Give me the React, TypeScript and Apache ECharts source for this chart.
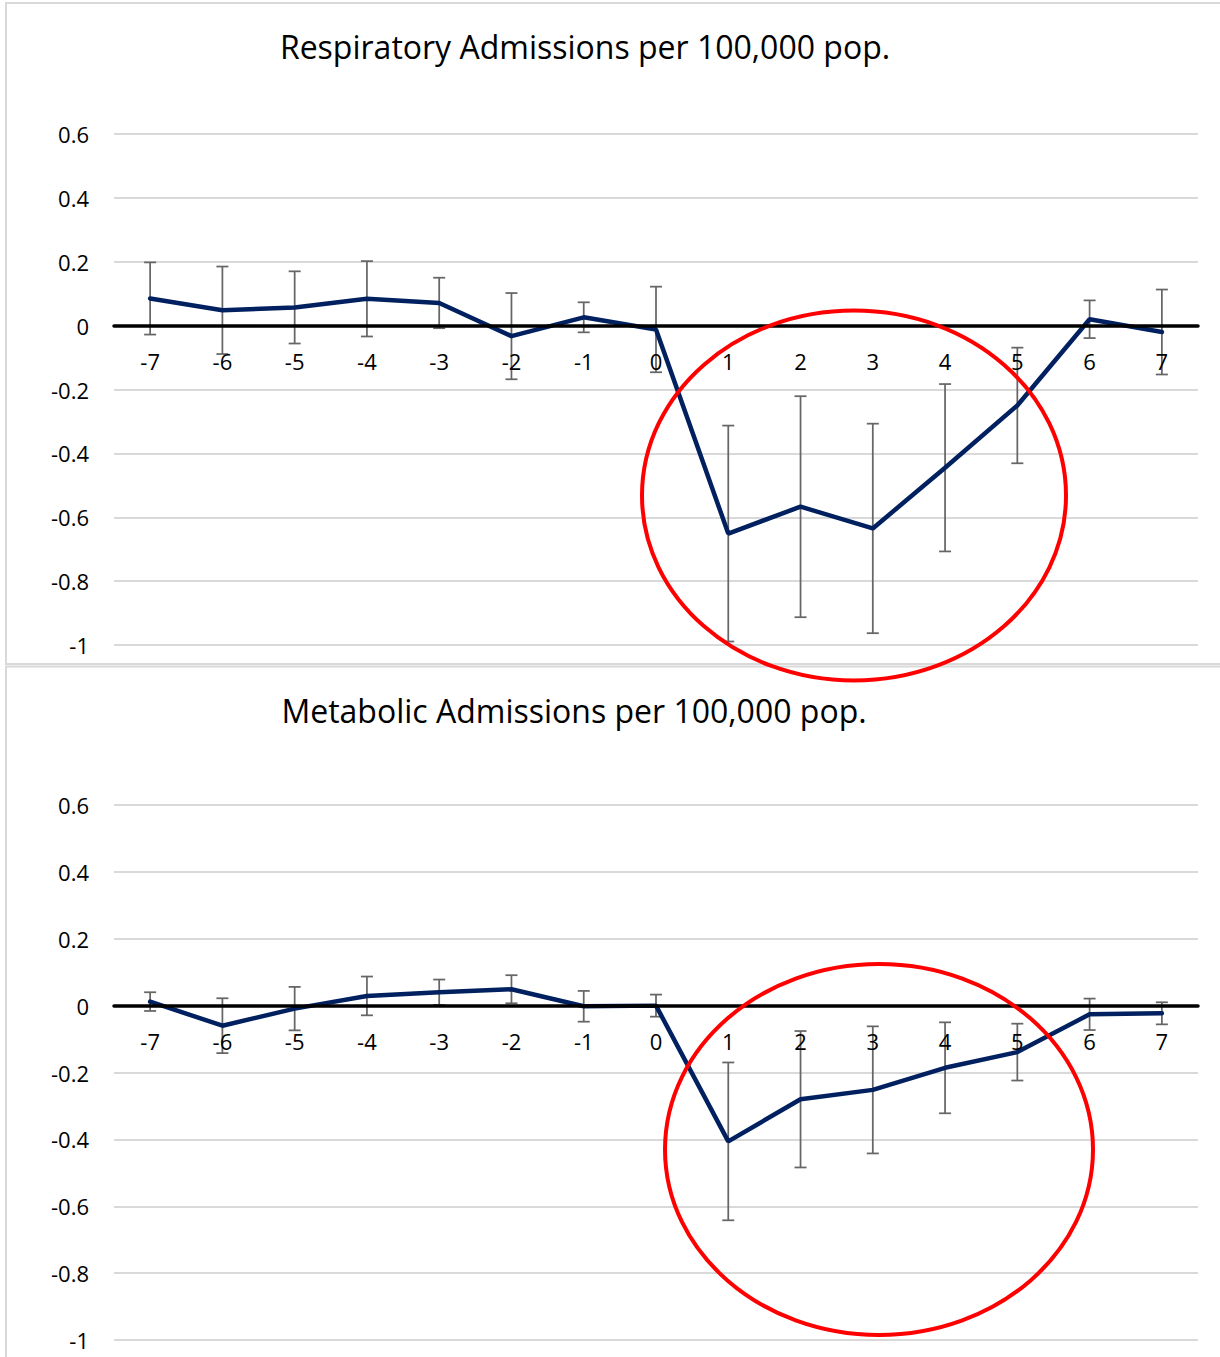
import React, { useEffect, useRef } from "react";
import * as echarts from "echarts";

const categories = ["-7", "-6", "-5", "-4", "-3", "-2", "-1", "0", "1", "2", "3", "4", "5", "6", "7"];

const respTitle = "Respiratory Admissions per 100,000 pop.";
const respValues = [0.085, 0.048, 0.057, 0.084, 0.071, -0.033, 0.026, -0.012, -0.651, -0.567, -0.635, -0.445, -0.25, 0.02, -0.02];
const respErr = [0.113, 0.137, 0.113, 0.118, 0.079, 0.135, 0.047, 0.134, 0.338, 0.346, 0.328, 0.262, 0.181, 0.059, 0.133];

const metaTitle = "Metabolic Admissions per 100,000 pop.";
const metaValues = [0.012, -0.06, -0.009, 0.029, 0.04, 0.049, -0.002, 0.0, -0.406, -0.28, -0.252, -0.186, -0.139, -0.026, -0.023];
const metaErr = [0.028, 0.082, 0.065, 0.058, 0.038, 0.042, 0.046, 0.033, 0.236, 0.204, 0.19, 0.136, 0.085, 0.047, 0.033];

const yMin = -1;
const yMax = 0.6;
const yStep = 0.2;

const FONT = "'Open Sans', Lato, sans-serif";

const H = 1357;
const grids = [
  { top: 134, bottomPx: 645 },
  { top: 805, bottomPx: 1340 },
];

function zeroOffset(g: { top: number; bottomPx: number }) {
  const h = g.bottomPx - g.top;
  return -((0 - yMin) / (yMax - yMin)) * h;
}

function errData(values: number[], errs: number[]) {
  return values.map((v, i) => [i, v - errs[i], v + errs[i]]);
}

function errRender(params: any, api: any) {
  const idx = api.value(0);
  const lo = api.value(1);
  const hi = api.value(2);
  const pHi = api.coord([idx, hi]);
  const pLo = api.coord([idx, lo]);
  const cap = 6;
  const style = { stroke: "#666666", lineWidth: 1.75 };
  return {
    type: "group",
    children: [
      { type: "line", shape: { x1: pHi[0], y1: pHi[1], x2: pLo[0], y2: pLo[1] }, style },
      { type: "line", shape: { x1: pHi[0] - cap, y1: pHi[1], x2: pHi[0] + cap, y2: pHi[1] }, style },
      { type: "line", shape: { x1: pLo[0] - cap, y1: pLo[1], x2: pLo[0] + cap, y2: pLo[1] }, style },
    ],
  };
}

function xAxisCfg(gridIndex: number) {
  return {
    type: "category",
    gridIndex,
    position: "bottom",
    offset: zeroOffset(grids[gridIndex]),
    data: categories,
    boundaryGap: true,
    axisLine: { show: true, onZero: false, lineStyle: { color: "#000000", width: 3.5 } },
    axisTick: { show: false },
    axisLabel: { fontSize: 22, color: "#000000", fontFamily: FONT, margin: 24 },
    splitLine: { show: false },
    z: 5,
  };
}

function yAxisCfg(gridIndex: number) {
  return {
    type: "value",
    gridIndex,
    min: yMin,
    max: yMax,
    interval: yStep,
    axisLine: { show: false },
    axisTick: { show: false },
    axisLabel: {
      fontSize: 22,
      color: "#000000",
      fontFamily: FONT,
      margin: 25,
      formatter: (v: number) => String(Math.round(v * 10) / 10),
    },
    splitLine: { show: true, lineStyle: { color: "#d9d9d9", width: 2 } },
  };
}

export default function App() {
  const ref = useRef<HTMLDivElement>(null);
  useEffect(() => {
    document.body.style.margin = "0";
    const chart = echarts.init(ref.current!, null, { renderer: "svg" });
    chart.setOption({
      animation: false,
      backgroundColor: "#ffffff",
      title: [
        {
          text: respTitle,
          left: 580,
          top: 25,
          textAlign: "center",
          textStyle: { fontSize: 32, fontWeight: "normal", color: "#000000", fontFamily: FONT },
        },
        {
          text: metaTitle,
          left: 569,
          top: 689,
          textAlign: "center",
          textStyle: { fontSize: 32, fontWeight: "normal", color: "#000000", fontFamily: FONT },
        },
      ],
      grid: grids.map((g) => ({ left: 114, right: 22, top: g.top, bottom: H - g.bottomPx })),
      xAxis: [xAxisCfg(0), xAxisCfg(1)],
      yAxis: [yAxisCfg(0), yAxisCfg(1)],
      series: [
        {
          type: "custom",
          xAxisIndex: 0,
          yAxisIndex: 0,
          renderItem: errRender,
          data: errData(respValues, respErr),
          encode: { x: 0, y: [1, 2] },
          silent: true,
          z: 2,
        },
        {
          type: "line",
          xAxisIndex: 0,
          yAxisIndex: 0,
          data: respValues,
          showSymbol: false,
          symbol: "none",
          lineStyle: { color: "#002060", width: 4.5, cap: "round" },
          z: 3,
        },
        {
          type: "custom",
          xAxisIndex: 1,
          yAxisIndex: 1,
          renderItem: errRender,
          data: errData(metaValues, metaErr),
          encode: { x: 0, y: [1, 2] },
          silent: true,
          z: 2,
        },
        {
          type: "line",
          xAxisIndex: 1,
          yAxisIndex: 1,
          data: metaValues,
          showSymbol: false,
          symbol: "none",
          lineStyle: { color: "#002060", width: 4.5, cap: "round" },
          z: 3,
        },
      ],
      graphic: [
        {
          type: "rect",
          z: -10,
          shape: { x: 6, y: 3, width: 1240, height: 661 },
          style: { fill: "none", stroke: "#d9d9d9", lineWidth: 2 },
          silent: true,
        },
        {
          type: "rect",
          z: -10,
          shape: { x: 6, y: 666.5, width: 1240, height: 800 },
          style: { fill: "none", stroke: "#d9d9d9", lineWidth: 2 },
          silent: true,
        },
        {
          type: "ellipse",
          z: 100,
          shape: { cx: 854, cy: 495.5, rx: 212, ry: 185 },
          style: { fill: "none", stroke: "#ff0000", lineWidth: 4 },
          silent: true,
        },
        {
          type: "ellipse",
          z: 100,
          shape: { cx: 879, cy: 1149.5, rx: 214, ry: 185.5 },
          style: { fill: "none", stroke: "#ff0000", lineWidth: 4 },
          silent: true,
        },
      ],
    });
    return () => chart.dispose();
  }, []);
  return <div ref={ref} style={{ width: 1220, height: 1357 }} />;
}
